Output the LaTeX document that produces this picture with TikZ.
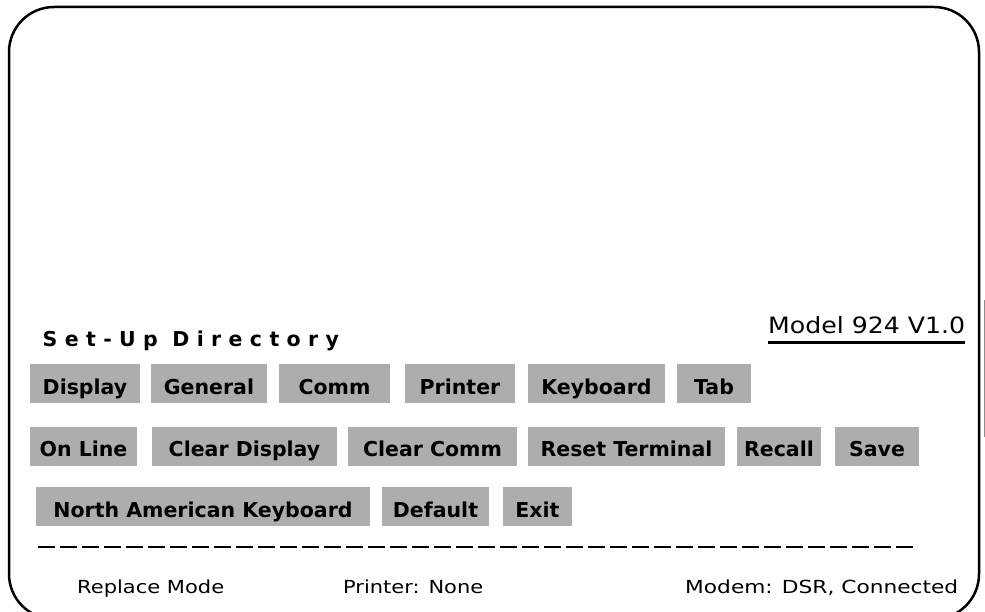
\documentclass[tikz,border=0pt]{standalone}
\usepackage{fontspec}
\setmainfont{DejaVu Sans}
\newfontface\spacedfont[LetterSpace=36]{DejaVu Sans Bold}
\tikzset{
  btn/.style={fill=black!32, inner sep=0pt, text height=30pt, text depth=9pt,
              font=\fontsize{20.5}{24}\selectfont\bfseries, anchor=base},
  plain/.style={inner sep=0pt, anchor=base west},
  statustext/.style={plain, font=\fontsize{18}{20}\selectfont},
  frame/.style={line width=2.5pt, rounded corners=45pt},
}
\begin{document}
\begin{tikzpicture}[x=1pt,y=-1pt]
\useasboundingbox (0,0) rectangle (985,612);
\clip (0,0) rectangle (985,612);
\draw[frame] (9,7) rectangle (979,619);
\draw[black!45, line width=1pt] (984,300) -- (984,437);

% title and model
\node[plain, font=\fontsize{20.5}{24}\spacedfont] (title) at (42.5,346.7) {Set-Up Directory};
\node[plain, font=\fontsize{22.5}{26}\selectfont] (model) at (768,333) {\resizebox{197pt}{\height}{Model 924 V1.0}};
\coordinate (ulA) at (768,342);
\coordinate (ulB) at (965,342);
\draw[line width=3pt] (ulA) -- (ulB);

% row 1
\node[btn, minimum width=110pt] (display)  at (85,394)    {Display};
\node[btn, minimum width=116pt] (general)  at (209,394)   {General};
\node[btn, minimum width=111pt] (comm)     at (334.5,394) {Comm};
\node[btn, minimum width=110pt] (printer)  at (460,394)   {Printer};
\node[btn, minimum width=137pt] (keyboard) at (596.5,394) {Keyboard};
\node[btn, minimum width=74pt]  (tab)      at (714,394)   {Tab};

% row 2
\node[btn, minimum width=107pt] (online)   at (83.5,456.5)  {On Line};
\node[btn, minimum width=185pt] (cleardisp) at (244.5,456.5) {Clear Display};
\node[btn, minimum width=169pt] (clearcomm) at (432.5,456.5) {Clear Comm};
\node[btn, minimum width=197pt] (reset)    at (626.5,456.5) {Reset Terminal};
\node[btn, minimum width=84pt]  (recall)   at (779,456.5)   {Recall};
\node[btn, minimum width=84pt]  (save)     at (877,456.5)   {Save};

% row 3
\node[btn, minimum width=334pt] (nak)      at (203,517)   {North American Keyboard};
\node[btn, minimum width=107pt] (default)  at (435.5,517) {Default};
\node[btn, minimum width=69pt]  (exit)     at (537.5,517) {Exit};

% separator
\coordinate (sepA) at (38,547);
\coordinate (sepB) at (915,547);
\draw[line width=2pt, dash pattern=on 17pt off 5pt] (sepA) -- (sepB);

% status line
\node[statustext] (mode)  at (77,593)  {\resizebox{147pt}{\height}{Replace Mode}};
\node[statustext] (prn)   at (343,593) {\resizebox{140pt}{\height}{Printer: None}};
\node[statustext] (modem) at (685,593) {\resizebox{273pt}{\height}{Modem: DSR, Connected}};
\end{tikzpicture}
\end{document}
